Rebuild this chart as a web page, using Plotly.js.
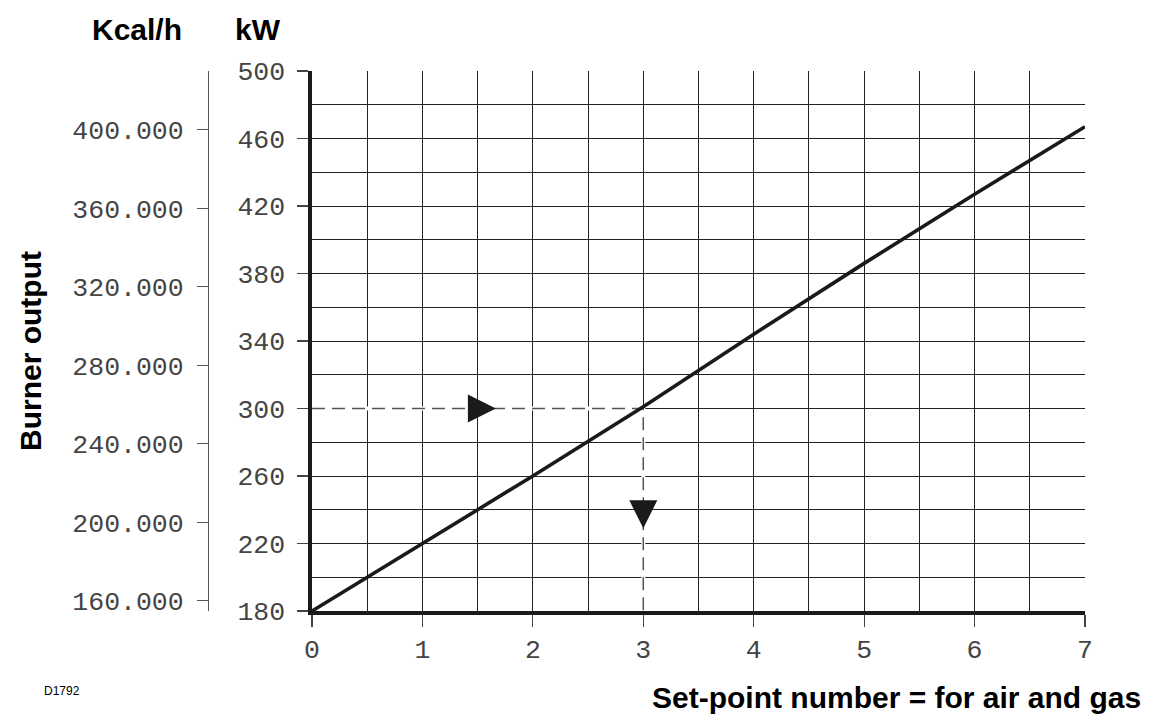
<!DOCTYPE html>
<html>
<head>
<meta charset="utf-8">
<script src="https://cdn.plot.ly/plotly-3.0.1.min.js"></script>
<style>
  html, body { margin: 0; padding: 0; background: #ffffff; }
  #chart { width: 1154px; height: 727px; }
</style>
</head>
<body>
<div id="chart"></div>
<script>
// ---- data ----
const setPoints = [0, 1, 2, 3, 4, 5, 6, 7];
const outputKW = [180, 220, 260, 301, 344, 386, 427, 467];

const kwTickVals = [180, 220, 260, 300, 340, 380, 420, 460, 500];
const kcalTickVals = [160000, 200000, 240000, 280000, 320000, 360000, 400000];
const kcalTickText = ['160.000', '200.000', '240.000', '280.000', '320.000', '360.000', '400.000'];
const setPointTicks = [0, 1, 2, 3, 4, 5, 6, 7];

const KW_TO_KCAL = 860;
const kwRange = [180, 500];
const setPointRange = [0, 7];

// example reading: 300 kW -> set-point 3
const exampleX = [0, 3, 3];
const exampleY = [300, 300, 180];
const arrowRightX = [1.665];
const arrowRightY = [300];
const arrowDownX = [3];
const arrowDownY = [229];

// ---- layout geometry (pixels) ----
const W = 1154, H = 727;
const M = { l: 100, r: 69, t: 71, b: 116 };
const plotW = W - M.l - M.r, plotH = H - M.t - M.b;
const px2x = px => (px - M.l) / plotW;
const py2y = py => (H - M.b - py) / plotH;

const tickFont = { family: 'Liberation Mono, DejaVu Sans Mono, monospace', size: 26.5, color: '#444444' };
const boldFont = { family: 'Liberation Sans, Arial, sans-serif', size: 30, color: '#000000' };
const gridColor = '#222222';

const traces = [
  {
    // white underlay hides the grid beneath the dashed guide
    x: exampleX, y: exampleY, type: 'scatter', mode: 'lines',
    line: { color: '#ffffff', width: 4 },
    hoverinfo: 'skip', showlegend: false
  },
  {
    x: exampleX, y: exampleY, type: 'scatter', mode: 'lines',
    line: { color: '#555555', width: 1.5, dash: '13px,7px' },
    hoverinfo: 'skip', showlegend: false
  },
  {
    x: setPoints, y: outputKW, type: 'scatter', mode: 'lines',
    line: { color: '#1a1a1a', width: 3.6 },
    showlegend: false
  },
  {
    x: arrowRightX, y: arrowRightY, type: 'scatter', mode: 'markers',
    marker: { symbol: 'arrow-right', size: 28, color: '#1a1a1a', line: { width: 0 } },
    hoverinfo: 'skip', showlegend: false
  },
  {
    x: arrowDownX, y: arrowDownY, type: 'scatter', mode: 'markers',
    marker: { symbol: 'arrow-down', size: 28, color: '#1a1a1a', line: { width: 0 } },
    hoverinfo: 'skip', showlegend: false
  },
  {
    x: setPointRange, y: kwRange.map(v => v * KW_TO_KCAL), yaxis: 'y2',
    type: 'scatter', mode: 'lines', line: { width: 0 }, opacity: 0,
    hoverinfo: 'skip', showlegend: false
  }
];

const layout = {
  width: W, height: H,
  margin: M,
  paper_bgcolor: '#ffffff',
  plot_bgcolor: '#ffffff',
  showlegend: false,
  xaxis: {
    domain: [px2x(312), 1],
    range: setPointRange,
    tickvals: setPointTicks,
    ticks: 'outside', ticklen: 12, tickwidth: 1.2, tickcolor: '#444444',
    tickfont: tickFont,
    showline: true, linewidth: 3.6, linecolor: '#1a1a1a',
    showgrid: true, gridcolor: gridColor, gridwidth: 1,
    minor: { dtick: 0.5, tick0: 0, showgrid: true, gridcolor: gridColor, gridwidth: 1, ticks: '' },
    zeroline: false, fixedrange: true
  },
  yaxis: {
    range: kwRange,
    tickvals: kwTickVals,
    ticks: 'outside', ticklen: 11, tickwidth: 1.2, tickcolor: '#444444',
    ticklabelstandoff: 7,
    tickfont: tickFont,
    showline: true, linewidth: 3.6, linecolor: '#1a1a1a',
    showgrid: true, gridcolor: gridColor, gridwidth: 1,
    minor: { dtick: 20, tick0: 180, showgrid: true, gridcolor: gridColor, gridwidth: 1, ticks: '' },
    zeroline: false, fixedrange: true
  },
  yaxis2: {
    overlaying: 'y', anchor: 'free', side: 'left',
    position: px2x(208),
    range: kwRange.map(v => v * KW_TO_KCAL),
    tickvals: kcalTickVals, ticktext: kcalTickText,
    ticks: 'outside', ticklen: 11, tickwidth: 1.2, tickcolor: '#555555',
    ticklabelstandoff: 8,
    tickfont: tickFont,
    showline: true, linewidth: 1.3, linecolor: '#555555',
    showgrid: false, zeroline: false, fixedrange: true
  },
  annotations: [
    { text: '<b>Kcal/h</b>', xref: 'paper', yref: 'paper', x: px2x(137), y: py2y(29),
      xanchor: 'center', yanchor: 'middle', showarrow: false, font: boldFont },
    { text: '<b>kW</b>', xref: 'paper', yref: 'paper', x: px2x(258), y: py2y(29),
      xanchor: 'center', yanchor: 'middle', showarrow: false, font: boldFont },
    { text: '<b>Burner output</b>', xref: 'paper', yref: 'paper', x: px2x(30), y: py2y(351),
      xanchor: 'center', yanchor: 'middle', textangle: -90, showarrow: false, font: boldFont },
    { text: '<b>Set-point number = for air and gas</b>', xref: 'paper', yref: 'paper', x: px2x(1143), y: py2y(697),
      xanchor: 'right', yanchor: 'middle', showarrow: false, font: boldFont },
    { text: 'D1792', xref: 'paper', yref: 'paper', x: px2x(42), y: py2y(691),
      xanchor: 'left', yanchor: 'middle', showarrow: false,
      font: { family: 'Liberation Sans, Arial, sans-serif', size: 12, color: '#000000' } }
  ]
};

Plotly.newPlot('chart', traces, layout, { displayModeBar: false, staticPlot: true });
</script>
</body>
</html>
